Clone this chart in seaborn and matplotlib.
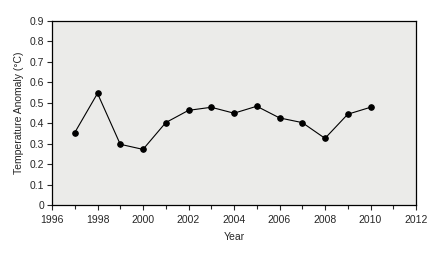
import matplotlib
matplotlib.use("Agg")
import matplotlib.pyplot as plt
import seaborn as sns
import pandas as pd
from matplotlib.ticker import MultipleLocator

years = [1997, 1998, 1999, 2000, 2001, 2002, 2003, 2004, 2005, 2006, 2007, 2008, 2009, 2010]
anomaly = [0.354, 0.546, 0.297, 0.272, 0.403, 0.463, 0.478, 0.449, 0.483, 0.426, 0.403, 0.326, 0.444, 0.478]
x_ticks = [1996, 1998, 2000, 2002, 2004, 2006, 2008, 2010, 2012]
y_ticks = [0, 0.1, 0.2, 0.3, 0.4, 0.5, 0.6, 0.7, 0.8, 0.9]

sns.set_style("ticks")
plt.rcParams['font.family'] = ['Liberation Sans', 'DejaVu Sans']

df = pd.DataFrame({"Year": years, "Anomaly": anomaly})

fig = plt.figure(figsize=(4.41, 2.60), dpi=100)
ax = fig.add_axes([52/441, 1 - 205/260, (416-52)/441, (205-21)/260])
ax.set_facecolor("#ebebe9")

sns.lineplot(data=df, x="Year", y="Anomaly", ax=ax, color="black", linewidth=0.8,
             marker="o", markersize=4, markeredgecolor="black", markerfacecolor="black")

ax.set_xlim(1996, 2012)
ax.set_ylim(0, 0.9)
ax.set_xticks(x_ticks)
ax.set_xticklabels([str(t) for t in x_ticks])
ax.set_yticks(y_ticks)
ax.set_yticklabels(["0"] + [f"{t:.1f}" for t in y_ticks[1:]])
ax.xaxis.set_minor_locator(MultipleLocator(1))
ax.tick_params(axis="both", which="major", direction="out", length=3.5, width=0.8, labelsize=7.5)
ax.tick_params(axis="x", which="major", pad=4)
ax.tick_params(axis="y", which="major", pad=2)
ax.tick_params(axis="x", which="minor", direction="out", length=3, width=0.8)
for s in ax.spines.values():
    s.set_visible(True)
    s.set_color("black")
    s.set_linewidth(0.9)

ax.set_xlabel("Year", fontsize=7.5, labelpad=5)
ax.set_ylabel("Temperature Anomaly (°C)", fontsize=7.5, labelpad=4)

fig.savefig("out.png", dpi=100, facecolor="white")
